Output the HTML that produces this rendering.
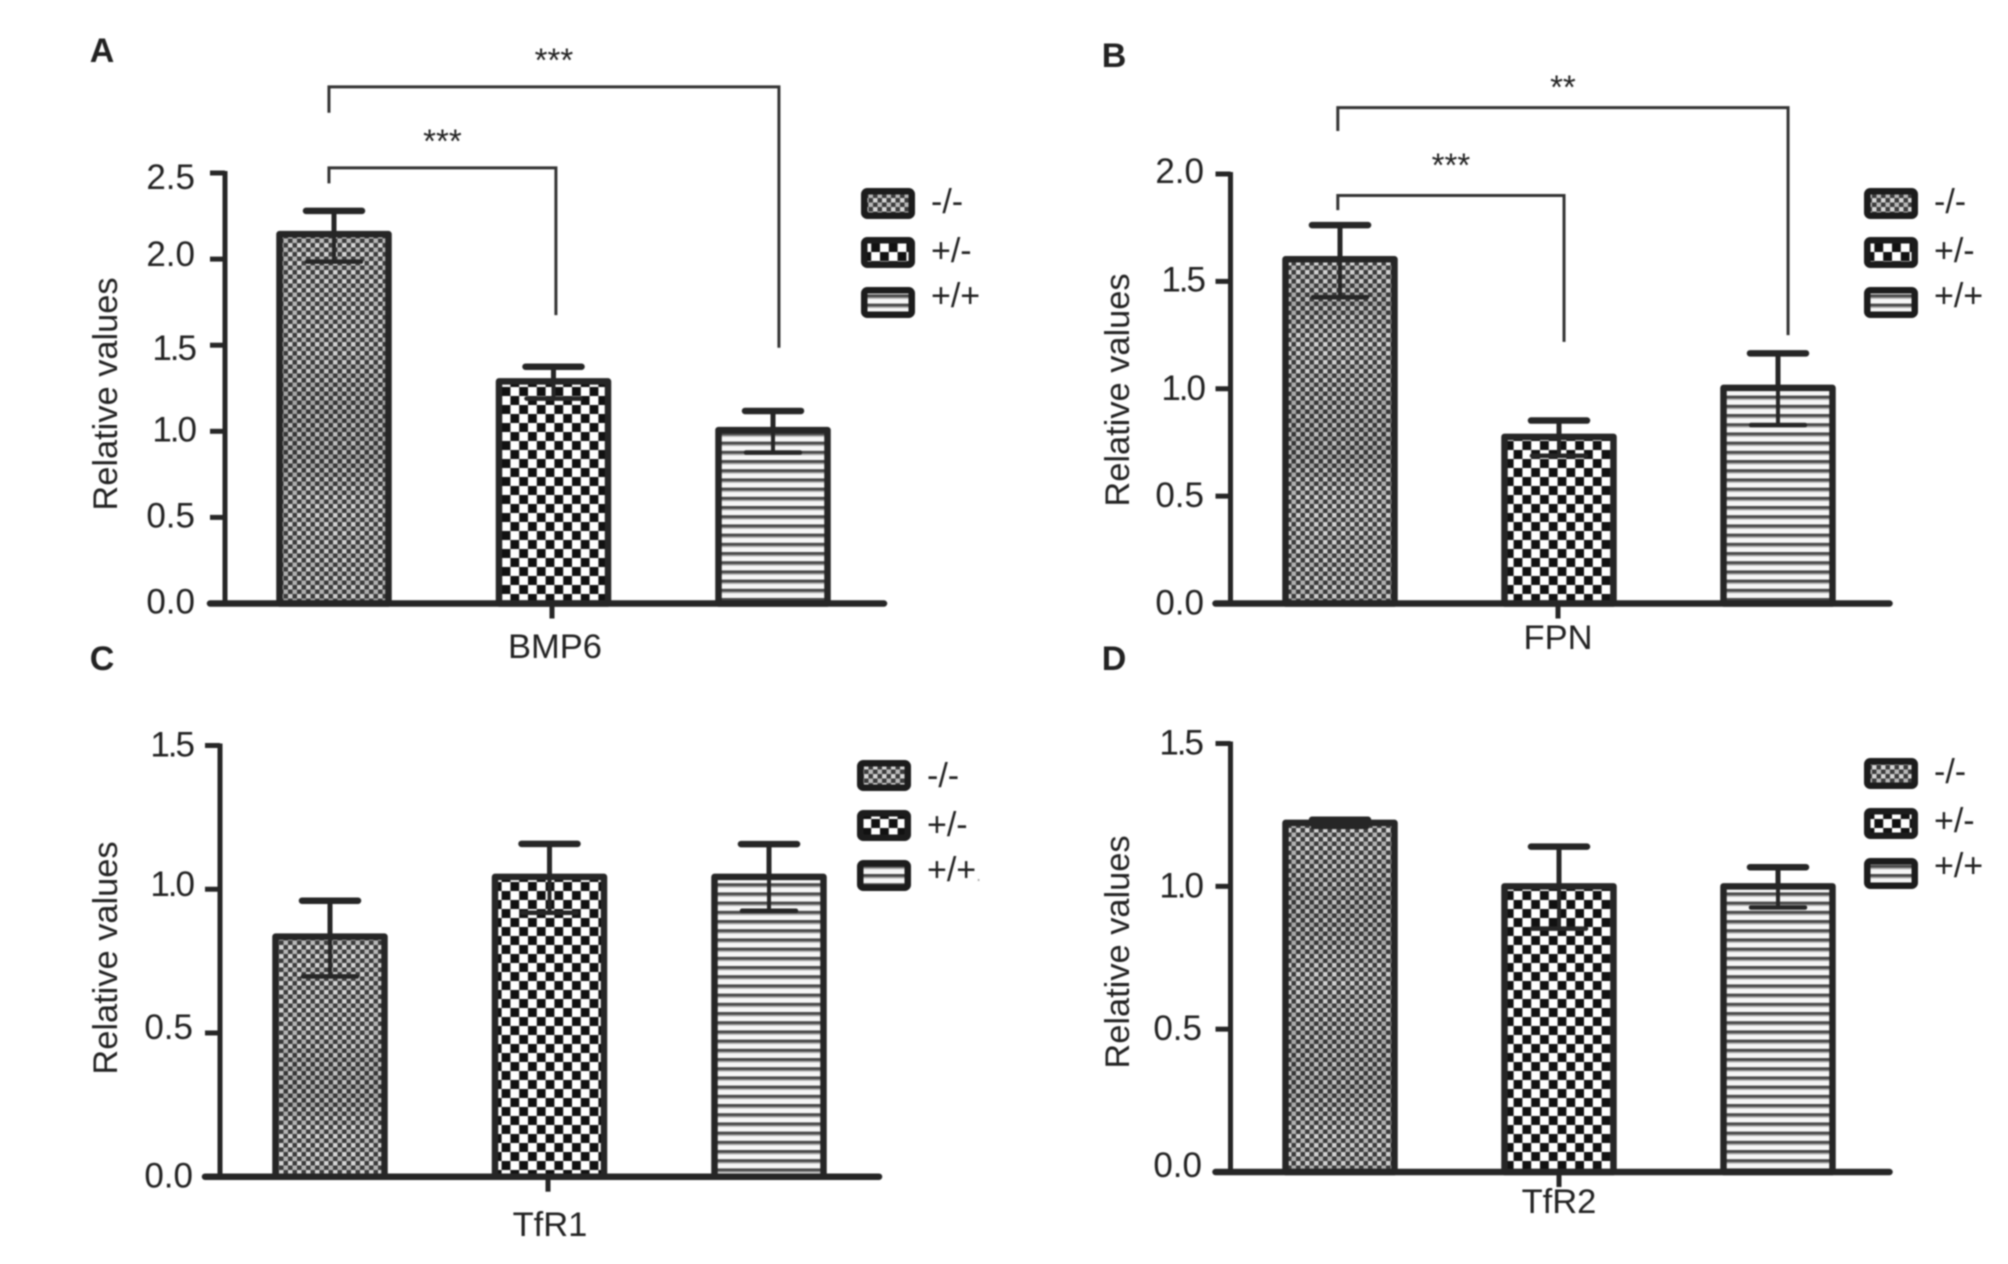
<!DOCTYPE html>
<html lang="en">
<head>
<meta charset="utf-8">
<title>Relative values of BMP6, FPN, TfR1 and TfR2</title>
<style>
  html, body { margin: 0; padding: 0; background: #fff; }
  body { width: 2008px; height: 1264px; overflow: hidden; }
  svg { display: block; filter: blur(0.85px); }
  text { font-family: "Liberation Sans", sans-serif; fill: #222; }
</style>
</head>
<body>
<svg id="figure" xmlns="http://www.w3.org/2000/svg" width="2008" height="1264" viewBox="0 0 2008 1264">
  <defs>
    <pattern id="fill-dots" patternUnits="userSpaceOnUse" width="9" height="9">
      <rect width="9" height="9" fill="#3c3c3c"/>
      <rect x="0" y="0" width="4.5" height="4.5" fill="#d6d6d6"/>
      <rect x="4.5" y="4.5" width="4.5" height="4.5" fill="#b8b8b8"/>
    </pattern>
    <pattern id="fill-checks" patternUnits="userSpaceOnUse" width="17.6" height="18">
      <rect width="17.6" height="18" fill="#fff"/>
      <rect x="0" y="0" width="8.8" height="9" fill="#111"/>
      <rect x="8.8" y="9" width="8.8" height="9" fill="#111"/>
    </pattern>
    <pattern id="fill-lines" patternUnits="userSpaceOnUse" width="9.2" height="9.2">
      <rect width="9.2" height="9.2" fill="#f6f6f6"/>
      <rect y="0" width="9.2" height="3" fill="#4a4a4a"/>
      <rect y="3" width="9.2" height="1.4" fill="#aaa"/>
    </pattern>
  </defs>
</svg>
<script>
// ---- chart data ----
const categories = ['-/-', '+/-', '+/+'];

const bmp6Values = [2.145, 1.29, 1.007];
const bmp6High = [2.28, 1.375, 1.118];
const bmp6Low = [1.985, 1.19, 0.877];
const bmp6Ticks = [0, 0.5, 1, 1.5, 2, 2.5];
const bmp6Brackets = [
  { from: -0.023, to: 2.027, level: 3.0, fromEnd: 2.85, toEnd: 1.485, labelLevel: 3.185, label: '***' },
  { from: -0.023, to: 1.011, level: 2.53, fromEnd: 2.44, toEnd: 1.675, labelLevel: 2.715, label: '***' }
];

const fpnValues = [1.603, 0.776, 1.004];
const fpnHigh = [1.762, 0.852, 1.165];
const fpnLow = [1.426, 0.688, 0.831];
const fpnTicks = [0, 0.5, 1, 1.5, 2];
const fpnBrackets = [
  { from: -0.01, to: 2.046, level: 2.309, fromEnd: 2.2, toEnd: 1.25, labelLevel: 2.428, label: '**' },
  { from: -0.01, to: 1.023, level: 1.9, fromEnd: 1.832, toEnd: 1.218, labelLevel: 2.065, label: '***' }
];

const tfr1Values = [0.835, 1.043, 1.043];
const tfr1High = [0.96, 1.158, 1.157];
const tfr1Low = [0.697, 0.918, 0.925];
const tfr1Ticks = [0, 0.5, 1, 1.5];
const tfr1Brackets = [];

const tfr2Values = [1.222, 1.0, 1.0];
const tfr2High = [1.233, 1.139, 1.067];
const tfr2Low = [1.208, 0.852, 0.926];
const tfr2Ticks = [0, 0.5, 1, 1.5];
const tfr2Brackets = [];

const fills = ['url(#fill-dots)', 'url(#fill-checks)', 'url(#fill-lines)'];
const SVG_NS = 'http://www.w3.org/2000/svg';
const figure = document.getElementById('figure');
const defs = figure.querySelector('defs');
const INK = '#262626';

function make(tag, attrs, parent) {
  const node = document.createElementNS(SVG_NS, tag);
  for (const key in attrs) node.setAttribute(key, attrs[key]);
  parent.appendChild(node);
  return node;
}

function drawPanel(p) {
  const g = make('g', {}, figure);
  
  

  const yScale = v => p.baseY - (v / p.yMax) * (p.baseY - p.topY);
  const xScale = i => p.firstCenter + i * p.step;

  const letter = make('text', { x: p.letterX, y: p.letterY + 10, 'text-anchor': 'middle', 'font-size': 34, 'font-weight': 'bold' }, g);
  letter.textContent = p.letter;
  
  

  // moire shading gradient for the dotted bar
  const grad = make('linearGradient', { id: 'band-' + p.slug, x1: 0, y1: 0, x2: 0, y2: 1 }, defs);
  p.bands.forEach(function (b) {
    make('stop', { offset: b[0], 'stop-color': '#000', 'stop-opacity': b[1] }, grad);
  });

  // bars
  p.values.forEach(function (v, i) {
    const top = yScale(v);
    const bar = make('rect', {
      x: xScale(i) - p.barWidth / 2, y: top, width: p.barWidth, height: p.baseY - top,
      fill: fills[i], stroke: INK, 'stroke-width': 6.5, 'stroke-linejoin': 'round'
    }, g);
    
    
    if (i === 0) {
      const shade = make('rect', {
        x: xScale(i) - p.barWidth / 2 + 3, y: top + 3, width: p.barWidth - 6, height: p.baseY - top - 6,
        fill: 'url(#band-' + p.slug + ')'
      }, g);
      
      
    }
  });

  // error bars
  p.values.forEach(function (v, i) {
    const cx = xScale(i) + p.errorShift;
    const hi = yScale(p.high[i]);
    const lo = yScale(p.low[i]);
    const mid = yScale(v);
    const err = make('g', { stroke: INK, 'stroke-linecap': 'round', fill: 'none' }, g);
    
    
    make('line', { x1: cx, x2: cx, y1: hi, y2: mid, 'stroke-width': 5 }, err);
    make('line', { x1: cx, x2: cx, y1: mid, y2: lo, 'stroke-width': 4 }, err);
    make('line', { x1: cx - 28, x2: cx + 28, y1: hi, y2: hi, 'stroke-width': 6.5 }, err);
    make('line', { x1: cx - 27, x2: cx + 27, y1: lo, y2: lo, 'stroke-width': 4.5 }, err);
  });

  // axes
  const yAxis = make('line', { x1: p.axisX, x2: p.axisX, y1: p.topY - 2, y2: p.baseY, stroke: INK, 'stroke-width': 5 }, g);
  
  
  const xAxis = make('line', { x1: p.axisX - 15, x2: p.axisX + 659, y1: p.baseY, y2: p.baseY, stroke: INK, 'stroke-width': 6.5, 'stroke-linecap': 'round' }, g);
  
  
  const xTick = make('line', { x1: p.xTickX, x2: p.xTickX, y1: p.baseY, y2: p.baseY + 15, stroke: INK, 'stroke-width': 5 }, g);
  
  

  p.ticks.forEach(function (t) {
    const ty = yScale(t);
    const tick = make('line', { x1: p.axisX - 15, x2: p.axisX, y1: ty, y2: ty, stroke: INK, 'stroke-width': 5 }, g);
    
    
    const nudge = p.labelNudge[t.toFixed(1)] || 0;
    const label = make('text', {
      x: p.labelRight, y: ty + 11 + nudge, 'text-anchor': 'end', 'font-size': 35,
      'letter-spacing': t >= 1 && t < 2 ? -2 : 0
    }, g);
    label.textContent = t.toFixed(1);
    
    
  });

  // axis titles
  const yTitle = make('text', {
    x: 0, y: 0, 'text-anchor': 'middle', 'font-size': 34.4,
    transform: 'translate(' + (p.yTitleX + 11) + ' ' + p.yTitleY + ') rotate(-90)'
  }, g);
  yTitle.textContent = 'Relative values';
  
  

  const xTitle = make('text', { x: p.titleX, y: p.titleY + 12, 'text-anchor': 'middle', 'font-size': 34.5 }, g);
  xTitle.textContent = p.title;
  
  

  // significance brackets
  p.brackets.forEach(function (b) {
    const x1 = xScale(b.from);
    const x2 = xScale(b.to);
    const path = make('path', {
      d: 'M' + x1 + ' ' + yScale(b.fromEnd) + 'V' + yScale(b.level) + 'H' + x2 + 'V' + yScale(b.toEnd),
      fill: 'none', stroke: '#333', 'stroke-width': 3
    }, g);
    
    
    const stars = make('text', { x: (x1 + x2) / 2, y: yScale(b.labelLevel) + 16.5, 'text-anchor': 'middle', 'font-size': 33 }, g);
    stars.textContent = b.label;
    
    
  });

  // legend
  categories.forEach(function (name, i) {
    const item = make('g', {}, g);
    
    
    make('rect', {
      x: p.legendX + 3.25, y: p.legendBoxY[i] + 3.25, width: 47.5, height: 24.5, rx: 3,
      fill: fills[i], stroke: '#1c1c1c', 'stroke-width': 6.5
    }, item);
    const text = make('text', { x: p.legendX + 70, y: p.legendTextY[i] + 10, 'font-size': 34 }, item);
    text.textContent = name;
    if (p.slug === 'tfr1' && i === 2) {
      const dot = make('tspan', { style: 'fill:#aaa', 'font-size': 18 }, text);
      dot.textContent = '.';
    }
  });
}

drawPanel({
  slug: 'bmp6', letter: 'A', title: 'BMP6',
  values: bmp6Values, high: bmp6High, low: bmp6Low, ticks: bmp6Ticks, brackets: bmp6Brackets,
  yMax: 2.5, axisX: 225, baseY: 603.5, topY: 173, firstCenter: 334, step: 219.5, barWidth: 109, errorShift: 0,
  xTickX: 552, labelRight: 195, letterX: 102, letterY: 52, titleX: 555, titleY: 646, yTitleX: 106, yTitleY: 394,
  labelNudge: { '2.5': 5, '2.0': -4, '1.5': 4, '1.0': -1, '0.5': -1, '0.0': -1 },
  legendX: 861, legendBoxY: [188, 237, 287], legendTextY: [203, 252, 297],
  bands: [[0, 0], [0.3, 0.03], [0.47, 0.12], [0.62, 0.12], [0.72, 0.02], [1, 0.05]]
});
drawPanel({
  slug: 'fpn', letter: 'B', title: 'FPN',
  values: fpnValues, high: fpnHigh, low: fpnLow, ticks: fpnTicks, brackets: fpnBrackets,
  yMax: 2, axisX: 1230.5, baseY: 603.5, topY: 174, firstCenter: 1340, step: 219, barWidth: 109, errorShift: 0,
  xTickX: 1558, labelRight: 1204, letterX: 1114, letterY: 57, titleX: 1558, titleY: 637, yTitleX: 1118, yTitleY: 390,
  labelNudge: { '2.0': -2, '1.5': -1 },
  legendX: 1864, legendBoxY: [188, 237, 287], legendTextY: [203, 252, 297],
  bands: [[0, 0], [0.12, 0.1], [0.24, 0.01], [0.48, 0.11], [0.58, 0.12], [0.68, 0.01], [1, 0.05]]
});
drawPanel({
  slug: 'tfr1', letter: 'C', title: 'TfR1',
  values: tfr1Values, high: tfr1High, low: tfr1Low, ticks: tfr1Ticks, brackets: tfr1Brackets,
  yMax: 1.5, axisX: 220, baseY: 1176.7, topY: 745.5, firstCenter: 330, step: 219.5, barWidth: 109, errorShift: 0,
  xTickX: 548, labelRight: 193, letterX: 102, letterY: 660, titleX: 550, titleY: 1224, yTitleX: 106, yTitleY: 958,
  labelNudge: { '1.0': -4, '0.5': -5 },
  legendX: 857, legendBoxY: [760, 810, 860], legendTextY: [777, 826, 871],
  bands: [[0, 0], [0.4, 0.02], [0.52, 0.1], [0.7, 0.1], [0.8, 0.01], [1, 0.01]]
});
drawPanel({
  slug: 'tfr2', letter: 'D', title: 'TfR2',
  values: tfr2Values, high: tfr2High, low: tfr2Low, ticks: tfr2Ticks, brackets: tfr2Brackets,
  yMax: 1.5, axisX: 1230.5, baseY: 1172, topY: 743.5, firstCenter: 1340, step: 219, barWidth: 109, errorShift: 0,
  xTickX: 1559, labelRight: 1202, letterX: 1114, letterY: 660, titleX: 1559, titleY: 1201, yTitleX: 1118, yTitleY: 952,
  labelNudge: { '0.0': -6 },
  legendX: 1864, legendBoxY: [758, 808, 858], legendTextY: [773, 822, 867],
  bands: [[0, 0], [0.2, 0.1], [0.32, 0.09], [0.45, 0.02], [0.67, 0.1], [0.78, 0.1], [0.88, 0.02], [1, 0.03]]
});
</script>
</body>
</html>
